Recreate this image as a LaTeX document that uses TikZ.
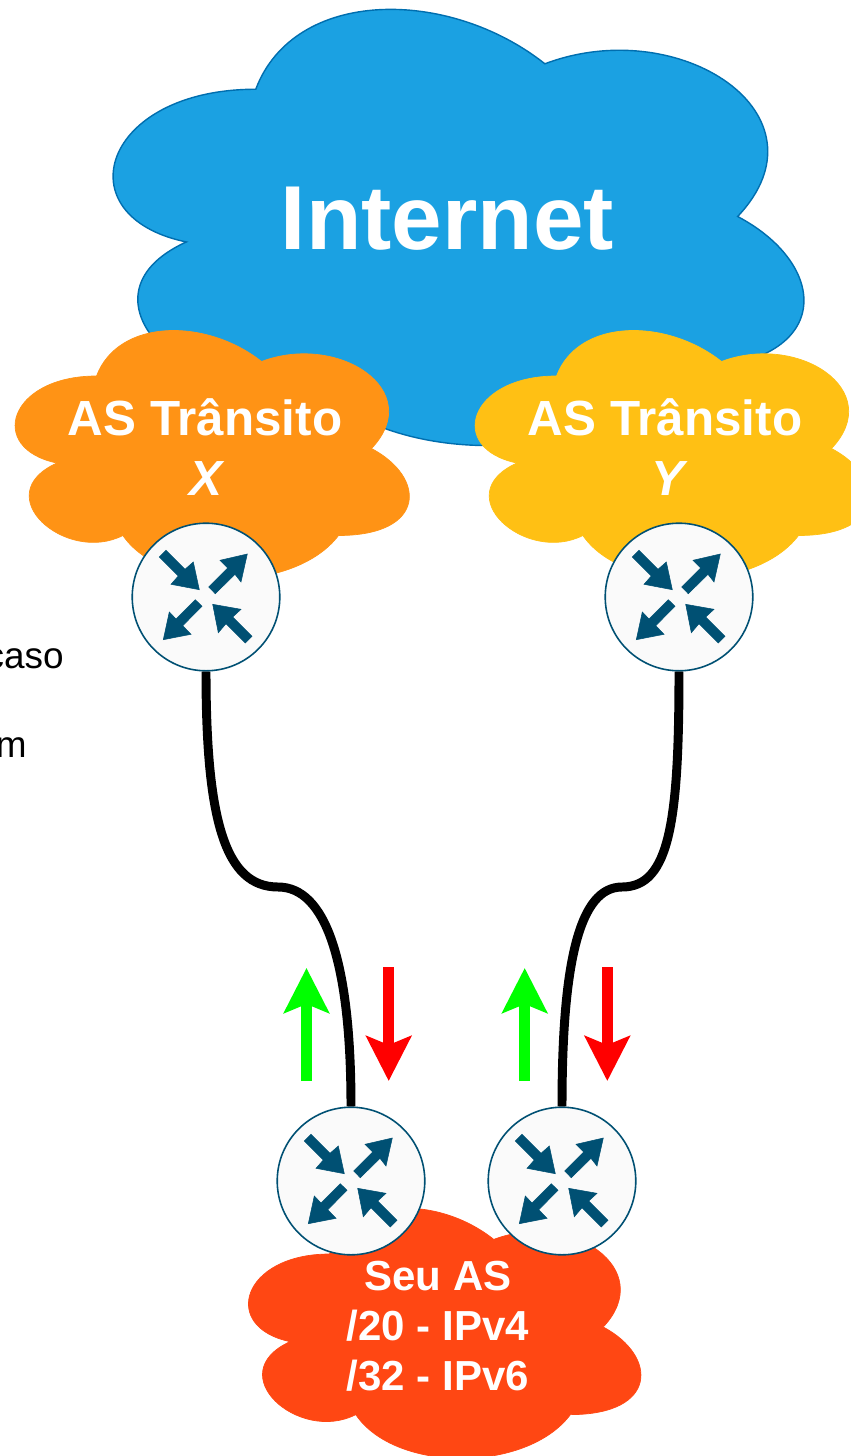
\documentclass[tikz,border=0pt]{standalone}
\usepackage{fontspec}
\setmainfont{Liberation Sans}
\usetikzlibrary{arrows.meta}
\definecolor{netblue}{HTML}{1BA1E2}
\definecolor{netedge}{HTML}{006EAF}
\definecolor{asorange}{HTML}{FF9315}
\definecolor{asyellow}{HTML}{FFC014}
\definecolor{asred}{HTML}{FF4713}
\definecolor{routeredge}{HTML}{005073}
\definecolor{routerfill}{HTML}{FAFAFA}
\newcommand{\cloudshape}[5][]{
  \draw [#1] (#2+0.25*#4,#3+0.25*#5)
    .. controls (#2+0.05*#4,#3+0.25*#5) and (#2,#3+0.5*#5) .. (#2+0.16*#4,#3+0.55*#5)
    .. controls (#2,#3+0.66*#5) and (#2+0.18*#4,#3+0.9*#5) .. (#2+0.31*#4,#3+0.8*#5)
    .. controls (#2+0.4*#4,#3+#5) and (#2+0.7*#4,#3+#5) .. (#2+0.8*#4,#3+0.8*#5)
    .. controls (#2+#4,#3+0.8*#5) and (#2+#4,#3+0.6*#5) .. (#2+0.875*#4,#3+0.5*#5)
    .. controls (#2+#4,#3+0.3*#5) and (#2+0.8*#4,#3+0.1*#5) .. (#2+0.625*#4,#3+0.2*#5)
    .. controls (#2+0.5*#4,#3+0.05*#5) and (#2+0.3*#4,#3+0.05*#5) .. cycle;
}
\tikzset{
  router/.style={draw=routeredge, fill=routerfill, circle, line width=0.9pt, minimum size=84pt, inner sep=0pt},
  glyph/.style={fill=routeredge, draw=routeredge, line width=0.3pt},
  cable/.style={draw=black, line width=5.1pt},
  up/.style={draw=green, line width=6.2pt, -{Stealth[length=25.5pt,width=25.5pt,inset=5pt]}},
  down/.style={draw=red, line width=6.2pt, -{Stealth[length=25.5pt,width=25.5pt,inset=5pt]}},
  label/.style={inner sep=0pt, white, font=\bfseries, align=center},
  side/.style={inner sep=0pt, anchor=base east, font=\fontsize{21}{25}\selectfont}
}
\begin{document}
\begin{tikzpicture}[x=0.02cm, y=-0.02cm]
  \useasboundingbox (0,0) rectangle (851,1456);
  \clip (0,0) rectangle (851,1456);
  %
  \node [side] (caso) at (64,668.5) {caso};
  \node [side] (em) at (27,757.5) {m};
  %
  \cloudshape[fill=netblue, draw=netedge, line width=0.8pt]{63}{-38}{771}{509}
  \cloudshape[fill=asorange, draw=asorange, line width=0.4pt]{-13.5}{303.5}{440}{290}
  \cloudshape[fill=asyellow, draw=asyellow, line width=0.4pt]{446.5}{303.5}{440}{290}
  \cloudshape[fill=asred, draw=asred, line width=0.4pt]{220}{1181}{438}{292}
  %
  \node [label, anchor=base, font=\bfseries\fontsize{51.7}{60}\selectfont] (internet) at (447.5,250) {Internet};
  \foreach \name/\x/\xw/\who in {transitx/205/205.5/X, transity/665/667.5/Y} {
    \node [label, anchor=base, font=\bfseries\fontsize{28.1}{33}\selectfont] (\name) at (\x,435) {AS Trânsito};
    \node [label, anchor=base, font=\bfseries\itshape\fontsize{28.1}{33}\selectfont] (\name who) at (\xw,495) {\who};
  }
  \node [label, anchor=base, font=\bfseries\fontsize{23.9}{28}\selectfont] (seuas) at (438,1290) {Seu AS};
  \node [label, anchor=base, font=\bfseries\fontsize{23.9}{28}\selectfont] (seuv4) at (438,1340) {/20 - IPv4};
  \node [label, anchor=base, font=\bfseries\fontsize{23.9}{28}\selectfont] (seuv6) at (438,1390) {/32 - IPv6};
  %
  \foreach \name/\x/\y in {rx/206/597, ry/679/597, ra/351/1181, rb/562/1181} {
    \node [router] (\name) at (\x,\y) {};
    \begin{scope}[shift={(\x,\y)}]
      \filldraw [glyph] (-46.7,-40) -- (-40,-46.7) -- (-21,-27.7) -- (-12.7,-35) -- (-6.7,-7.3) -- (-35,-12.7) -- (-27.7,-21) -- cycle;
      \filldraw [glyph] (2.7,-10) -- (21.7,-29) -- (14,-36.7) -- (41.3,-43) -- (35,-15) -- (29,-22.7) -- (9.3,-3.3) -- cycle;
      \filldraw [glyph] (-10.7,2.7) -- (-30,22) -- (-36.7,15) -- (-42.7,42.7) -- (-15,37.3) -- (-23.3,28.7) -- (-4,9.3) -- cycle;
      \filldraw [glyph] (39.3,46) -- (46,39.3) -- (26.7,20) -- (35,12.3) -- (6.7,7.3) -- (12.3,35.7) -- (20,26.7) -- cycle;
    \end{scope}
  }
  %
  \draw [cable] (rx.south) .. controls (206,820) and (225,887) .. (278,887)
    .. controls (325,887) and (351,960) .. (ra.north);
  \draw [cable] (ry.south) .. controls (679,820) and (670,887) .. (622,887)
    .. controls (580,887) and (562,960) .. (rb.north);
  %
  \foreach \name/\xu/\xd in {a/306.5/388.7, b/524.7/607.3} {
    \coordinate (up\name s) at (\xu,1081);
    \coordinate (up\name e) at (\xu,968);
    \coordinate (down\name s) at (\xd,967);
    \coordinate (down\name e) at (\xd,1081);
    \draw [up] (up\name s) -- (up\name e);
    \draw [down] (down\name s) -- (down\name e);
  }
\end{tikzpicture}
\end{document}
